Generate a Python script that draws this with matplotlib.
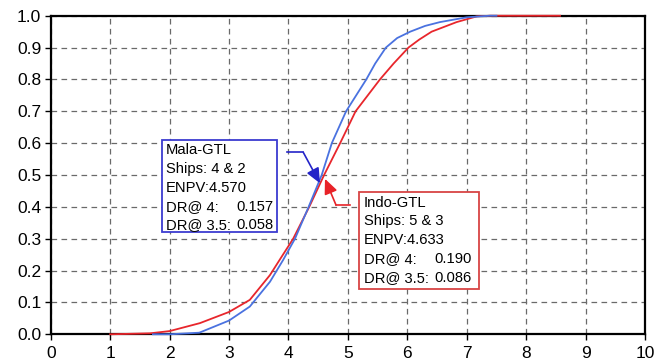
import matplotlib.pyplot as plt
import numpy as np

plt.rcParams['font.family'] = ['Liberation Sans', 'DejaVu Sans']

# CDF curves
mala_x = [1.72, 2.0, 2.5, 3.0, 3.35, 3.69, 3.91, 4.11, 4.34, 4.56, 4.73, 4.97, 5.31, 5.46, 5.64,
          5.83, 6.05, 6.3, 6.55, 7.0, 7.39, 7.5]
mala_y = [0.0, 0.0, 0.005, 0.043, 0.087, 0.165, 0.233, 0.30, 0.40, 0.50, 0.60, 0.70, 0.80, 0.85, 0.90,
          0.93, 0.95, 0.968, 0.98, 0.995, 1.0, 1.0]
indo_x = [1.0, 1.67, 2.0, 2.51, 3.0, 3.35, 3.69, 3.85, 4.08, 4.35, 4.60, 4.87, 5.13, 5.54, 5.77,
          6.02, 6.2, 6.41, 6.83, 7.17, 7.4, 8.57]
indo_y = [0.0, 0.003, 0.01, 0.035, 0.07, 0.108, 0.186, 0.233, 0.30, 0.40, 0.50, 0.60, 0.70, 0.80, 0.85,
          0.90, 0.925, 0.95, 0.98, 0.998, 1.0, 1.0]

mala_lines = ["Mala-GTL", "Ships: 4 & 2", "ENPV:4.570", "DR@ 4:", "DR@ 3.5:"]
mala_vals = ["", "", "", "0.157", "0.058"]
indo_lines = ["Indo-GTL", "Ships: 5 & 3", "ENPV:4.633", "DR@ 4:", "DR@ 3.5:"]
indo_vals = ["", "", "", "0.190", "0.086"]

blue = "#4a72e0"
red = "#e8262c"

fig = plt.figure(figsize=(6.68, 3.63), dpi=100)
ax = fig.add_axes([0.0759, 0.0791, 0.8897, 0.8776])

ax.plot(indo_x, indo_y, color=red, lw=1.3, zorder=3, clip_on=False)
ax.plot(mala_x, mala_y, color=blue, lw=1.3, zorder=3.1, clip_on=False)

ax.set_xlim(0, 10)
ax.set_ylim(0, 1)
ax.set_xticks(np.arange(0, 11, 1))
ax.set_yticks(np.arange(0, 1.01, 0.1))
ax.yaxis.set_major_formatter(plt.FormatStrFormatter('%.1f'))
ax.grid(True, color='#6a6a6a', lw=0.9, linestyle=(0, (4.5, 3.5)))
ax.tick_params(direction='out', length=4.3, width=1, labelsize=12.5)
ax.tick_params(axis='x', pad=4)
ax.tick_params(axis='y', pad=2.5)
for s in ax.spines.values():
    s.set_linewidth(1.6)


def note_box(x0, x1, y0, y1, edge, tx, ty, lines, vals, vx):
    ax.add_patch(plt.Rectangle((x0, y0), x1 - x0, y1 - y0, facecolor='white',
                               edgecolor=edge, lw=1.3, zorder=5))
    dy = 0.0589
    for i, (ln, v) in enumerate(zip(lines, vals)):
        ax.text(tx, ty - i * dy, ln, fontsize=10.6, va='baseline', ha='left', zorder=6)
        if v:
            ax.text(vx, ty - i * dy, v, fontsize=10.6, va='baseline', ha='right', zorder=6)


note_box(1.868, 3.813, 0.322, 0.610, '#3b3bd0', 1.94, 0.565, mala_lines, mala_vals, 3.75)
note_box(5.193, 7.212, 0.142, 0.448, '#d84444', 5.27, 0.4005, indo_lines, indo_vals, 7.09)

# arrows from the boxes to the curves
ax.plot([3.97, 4.25], [0.571, 0.571], color='#2424c8', lw=1.2, zorder=4)
ax.annotate('', xy=(4.531, 0.474), xytext=(4.25, 0.571),
            arrowprops=dict(arrowstyle='-|>,head_length=0.9,head_width=0.4', mutation_scale=10,
                            color='#2424c8', lw=1.2, shrinkA=0, shrinkB=0), zorder=4)
ax.plot([5.04, 4.80], [0.406, 0.406], color='#e82228', lw=1.2, zorder=4)
ax.annotate('', xy=(4.615, 0.488), xytext=(4.80, 0.406),
            arrowprops=dict(arrowstyle='-|>,head_length=0.9,head_width=0.4', mutation_scale=10,
                            color='#e82228', lw=1.2, shrinkA=0, shrinkB=0), zorder=4)

plt.savefig('out.png', dpi=100)
